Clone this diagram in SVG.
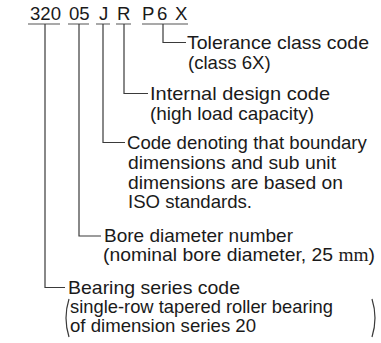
<svg xmlns="http://www.w3.org/2000/svg" width="381" height="343" viewBox="0 0 381 343">
<style>
text{font-family:"Liberation Sans",Arial,sans-serif;font-size:18.6px;fill:#1a1a1a}
.ln{stroke:#3a3a3a;stroke-width:1.2;fill:none}
.ul{stroke:#555;stroke-width:1.2;fill:none}
.mm{font-family:"Liberation Serif","Times New Roman",serif}
</style>
<rect width="381" height="343" fill="#fff"/>
<g id="code">
<text x="30" y="20">320</text>
<text x="69" y="20">05</text>
<text x="99" y="20">J</text>
<text x="117" y="20">R</text>
<text x="142" y="20">P</text>
<text x="157" y="20">6</text>
<text x="175" y="20">X</text>
<path class="ul" d="M28 24H60M68 24H89M96 24H110M116 24H131M142 24H188"/>
</g>
<g id="connectors">
<path class="ln" d="M163 24V42.5H186"/>
<path class="ln" d="M124 24V93.5H148"/>
<path class="ln" d="M103 24V142.5H125"/>
<path class="ln" d="M79 24V236H101"/>
<path class="ln" d="M45 24V287.5H65"/>
</g>
<g id="tolerance">
<text x="187" y="49" textLength="182" lengthAdjust="spacingAndGlyphs">Tolerance class code</text>
<text x="188" y="69">(class 6X)</text>
</g>
<g id="internal">
<text x="150" y="100" textLength="180" lengthAdjust="spacingAndGlyphs">Internal design code</text>
<text x="150" y="120" textLength="164" lengthAdjust="spacingAndGlyphs">(high load capacity)</text>
</g>
<g id="iso">
<text x="127" y="149">Code denoting that boundary</text>
<text x="128" y="169" textLength="208" lengthAdjust="spacingAndGlyphs">dimensions and sub unit</text>
<text x="128" y="189" textLength="215" lengthAdjust="spacingAndGlyphs">dimensions are based on</text>
<text x="128" y="208">ISO standards.</text>
</g>
<g id="bore">
<text x="104" y="242" textLength="189" lengthAdjust="spacingAndGlyphs">Bore diameter number</text>
<text x="103" y="261" textLength="272" lengthAdjust="spacingAndGlyphs">(nominal bore diameter, 25 <tspan class="mm">mm</tspan>)</text>
</g>
<g id="series">
<text x="68" y="294" textLength="172" lengthAdjust="spacingAndGlyphs">Bearing series code</text>
<text x="70" y="313" textLength="263" lengthAdjust="spacingAndGlyphs">single-row tapered roller bearing</text>
<text x="70" y="332">of dimension series 20</text>
<path class="ln" d="M69 299Q63 318 69 337"/>
<path class="ln" d="M372 299Q378 318 372 337"/>
</g>
</svg>
